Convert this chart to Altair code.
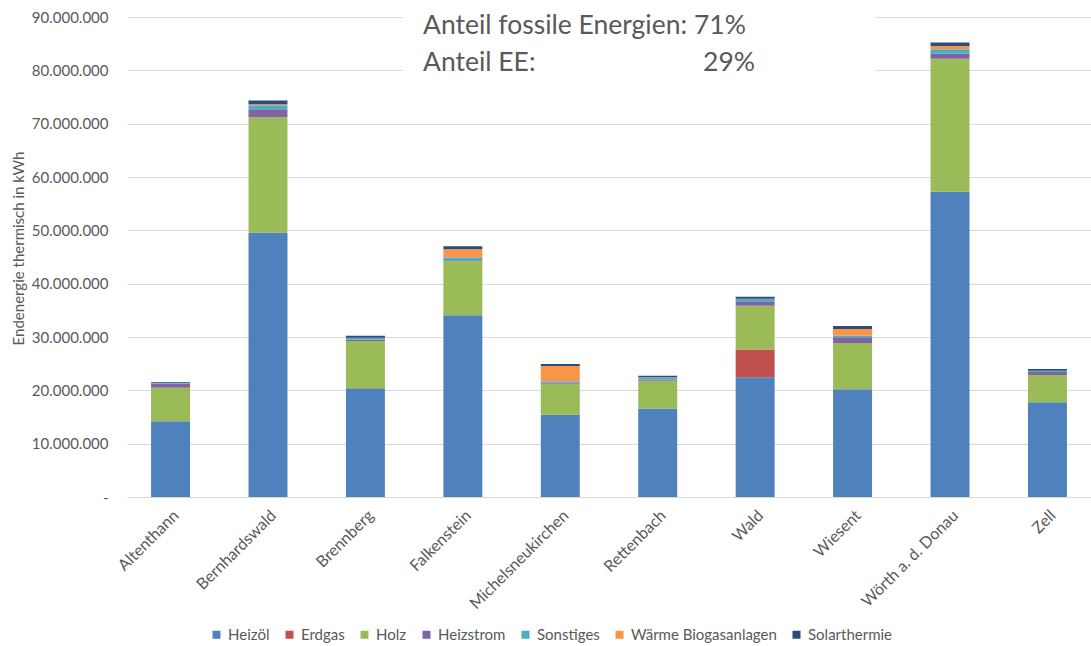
import altair as alt
import pandas as pd

# Gemeinden (x-Achse)
gemeinden = [
    "Altenthann", "Bernhardswald", "Brennberg", "Falkenstein", "Michelsneukirchen",
    "Rettenbach", "Wald", "Wiesent", "Wörth a. d. Donau", "Zell",
]

# Endenergie thermisch je Energieträger, in Mio. kWh
heizoel      = [14.2, 49.6, 20.4, 34.1, 15.4, 16.6, 22.45, 20.2, 57.25, 17.75]
erdgas       = [0.0, 0.0, 0.0, 0.0, 0.0, 0.0, 5.2, 0.0, 0.0, 0.0]
holz         = [6.3, 21.6, 8.85, 10.1, 5.85, 5.2, 8.2, 8.69, 24.9, 5.12]
heizstrom    = [0.8, 1.5, 0.3, 0.2, 0.2, 0.25, 0.87, 1.06, 0.94, 0.56]
sonstiges    = [0.1, 0.75, 0.3, 0.5, 0.25, 0.37, 0.44, 0.31, 0.87, 0.25]
biogas       = [0.0, 0.2, 0.0, 1.55, 2.87, 0.05, 0.0, 1.25, 0.62, 0.0]
solarthermie = [0.15, 0.7, 0.4, 0.56, 0.37, 0.25, 0.37, 0.56, 0.62, 0.31]

traeger = ["Heizöl", "Erdgas", "Holz", "Heizstrom", "Sonstiges",
           "Wärme Biogasanlagen", "Solarthermie"]
reihen = [heizoel, erdgas, holz, heizstrom, sonstiges, biogas, solarthermie]
farben = ["#4F81BD", "#C0504D", "#9BBB59", "#8064A2", "#4BACC6", "#F79646", "#2C4D75"]

y_ticks = [0, 10e6, 20e6, 30e6, 40e6, 50e6, 60e6, 70e6, 80e6, 90e6]

anteil_fossil = "Anteil fossile Energien: 71%"
anteil_ee = "Anteil EE:"
anteil_ee_wert = "29%"

rows = []
for idx, (name, werte) in enumerate(zip(traeger, reihen)):
    for g, v in zip(gemeinden, werte):
        rows.append({"Gemeinde": g, "Traeger": name, "kWh": v * 1e6, "Rang": idx})
df = pd.DataFrame(rows)

GRAU = "#595959"
LINIE = "#D9D9D9"

bars = alt.Chart(df).mark_bar().encode(
    x=alt.X(
        "Gemeinde:N",
        sort=gemeinden,
        scale=alt.Scale(paddingInner=0.6, paddingOuter=0.247),
        axis=alt.Axis(
            title=None, labelAngle=-45, labelFontSize=16, labelColor=GRAU,
            labelPadding=10, domainColor=LINIE, domainWidth=1, ticks=False,
        ),
    ),
    y=alt.Y(
        "kWh:Q",
        stack="zero",
        scale=alt.Scale(domain=[0, 90e6], nice=False),
        axis=alt.Axis(
            values=y_ticks, format=",d",
            labelExpr="datum.value == 0 ? '-' : datum.label",
            labelFontSize=15, labelColor=GRAU, labelPadding=19,
            domain=False, ticks=False, grid=True, gridColor=LINIE, gridWidth=1,
            title="Endenergie thermisch in kWh", titleFontSize=15,
            titleFontWeight="normal", titleColor=GRAU,
            titleX=-109, titleY=231, titleAngle=-90,
            titleAlign="center", titleBaseline="middle",
        ),
    ),
    color=alt.Color(
        "Traeger:N",
        scale=alt.Scale(domain=traeger, range=farben),
        legend=alt.Legend(
            title=None, orient="none", legendX=82, legendY=610,
            direction="horizontal", symbolType="square", symbolSize=64,
            symbolStrokeWidth=0, labelFontSize=15, labelColor=GRAU,
            labelOffset=4, columnPadding=12, padding=0,
        ),
    ),
    order=alt.Order("Rang:Q", sort="ascending"),
)

einzel = pd.DataFrame({"k": [0]})

# weisser Hintergrund hinter dem Textfeld
kasten = alt.Chart(einzel).mark_rect(color="white").encode(
    x=alt.value(276), x2=alt.value(749), y=alt.value(-17), y2=alt.value(88)
)

text_style = dict(fontSize=26.5, color=GRAU, baseline="alphabetic")
t1 = alt.Chart(einzel).mark_text(align="left", **text_style).encode(
    x=alt.value(296), y=alt.value(17), text=alt.value(anteil_fossil)
)
t2 = alt.Chart(einzel).mark_text(align="left", **text_style).encode(
    x=alt.value(296), y=alt.value(54), text=alt.value(anteil_ee)
)
t3 = alt.Chart(einzel).mark_text(align="right", **text_style).encode(
    x=alt.value(628), y=alt.value(54), text=alt.value(anteil_ee_wert)
)

chart = (
    alt.layer(bars, kasten, t1, t2, t3)
    .properties(
        width=964, height=480, autosize="none",
        padding={"left": 127, "top": 17, "right": 0, "bottom": 149},
    )
    .configure(
        font="Lato",
        locale={"number": {"decimal": ",", "thousands": ".", "grouping": [3],
                           "currency": ["", " €"]}},
    )
    .configure_view(stroke=None)
)

chart.save("out.html", embed_options={"renderer": "svg", "actions": False})
